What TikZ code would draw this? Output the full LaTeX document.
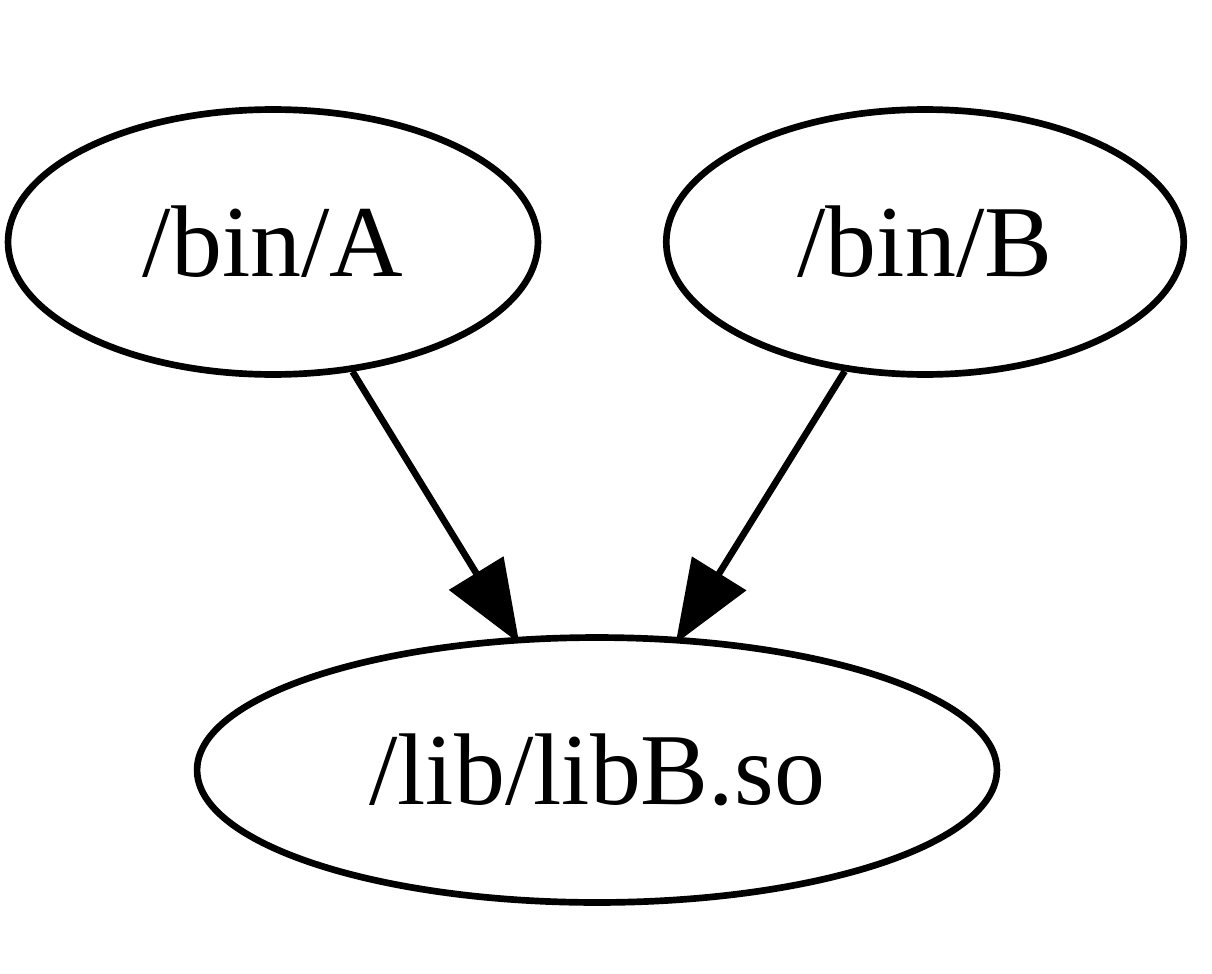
\documentclass[tikz,border=0pt]{standalone}
\usepackage{fontspec}
\setmainfont{Liberation Serif}
\usetikzlibrary{shapes.geometric,arrows.meta}
\tikzset{
  file/.style={draw, ellipse, line width=3.8pt, inner sep=0pt, font=\fontsize{58}{60}\selectfont},
  dep/.style={line width=3.8pt, shorten >=-0.15cm, -{Triangle[length=1.65cm, width=1.25cm]}}
}
\begin{document}
\begin{tikzpicture}[x=0.02cm, y=-0.02cm]
        \useasboundingbox (0,0) rectangle (1212,973);
        % Draw the binaries
        \node[file, minimum width=10.6cm, minimum height=5.3cm] (binA) at (273,242) {/bin/A};
        \node[file, minimum width=10.35cm, minimum height=5.3cm] (binB) at (925,242) {/bin/B};
        % Draw the library
        \node[file, minimum width=16cm, minimum height=5.3cm] (libB) at (597,770) {/lib/libB.so};
        % Draw the dependencies
        \draw[dep] (binA) -- (libB);
        \draw[dep] (binB) -- (libB);
    \end{tikzpicture}
\end{document}
